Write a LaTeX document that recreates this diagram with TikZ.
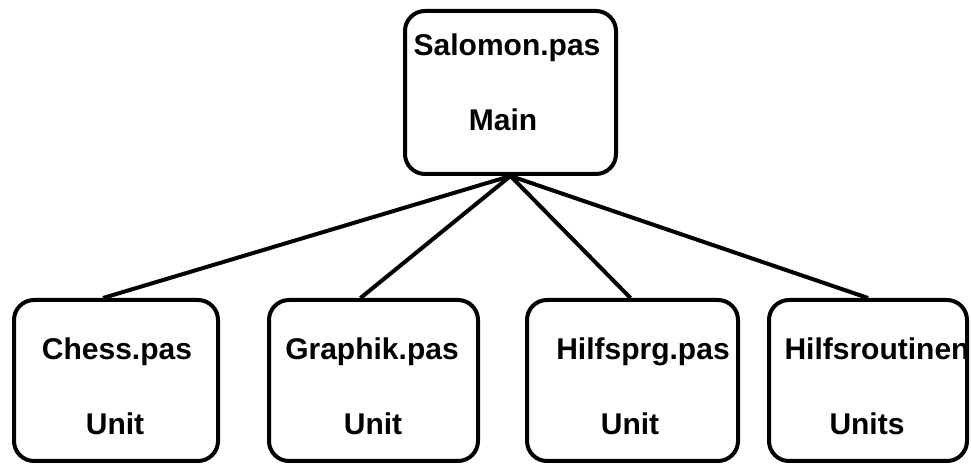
\documentclass[tikz,border=0pt]{standalone}
\usepackage{fontspec}
\setmainfont{Liberation Sans}
\begin{document}
\begin{tikzpicture}[x=0.5pt,y=-0.5pt,
  box/.style={draw, line width=2pt, rounded corners=10pt, inner sep=0pt},
  lbl/.style={anchor=base, inner sep=0pt, font=\bfseries\fontsize{15}{18}\selectfont}]
\useasboundingbox (0,0) rectangle (971,464);
\node[box, minimum width=105.5pt, minimum height=81.5pt] (main) at (510.5,92.5){};
\node[lbl] (mainname) at (507,56){Salomon.pas};
\node[lbl] (maintype) at (503,131){Main};
\node[box, minimum width=102pt, minimum height=80.5pt] (chess) at (116,380.5){};
\node[lbl] (chessname) at (117,360){Chess.pas};
\node[lbl] (chesstype) at (115,435){Unit};
\node[box, minimum width=104.5pt, minimum height=80.5pt] (graphik) at (373.5,380.5){};
\node[lbl] (graphikname) at (372,360){Graphik.pas};
\node[lbl] (graphiktype) at (373,435){Unit};
\node[box, minimum width=105.5pt, minimum height=80.5pt] (hilfsprg) at (632.5,380.5){};
\node[lbl] (hilfsprgname) at (643,360){Hilfsprg.pas};
\node[lbl] (hilfsprgtype) at (630,435){Unit};
\node[box, minimum width=99pt, minimum height=80.5pt] (hilfsrout) at (868,380.5){};
\node[lbl] (hilfsroutname) at (877,360){Hilfsroutinen};
\node[lbl] (hilfsrouttype) at (867,435){Units};
\draw[line width=2pt](main.south) -- ([xshift=-6.5pt]chess.north);
\draw[line width=2pt](main.south) -- ([xshift=-6.5pt]graphik.north);
\draw[line width=2pt](main.south) -- ([xshift=-1pt]hilfsprg.north);
\draw[line width=2pt](main.south) -- (hilfsrout.north);
\end{tikzpicture}
\end{document}
